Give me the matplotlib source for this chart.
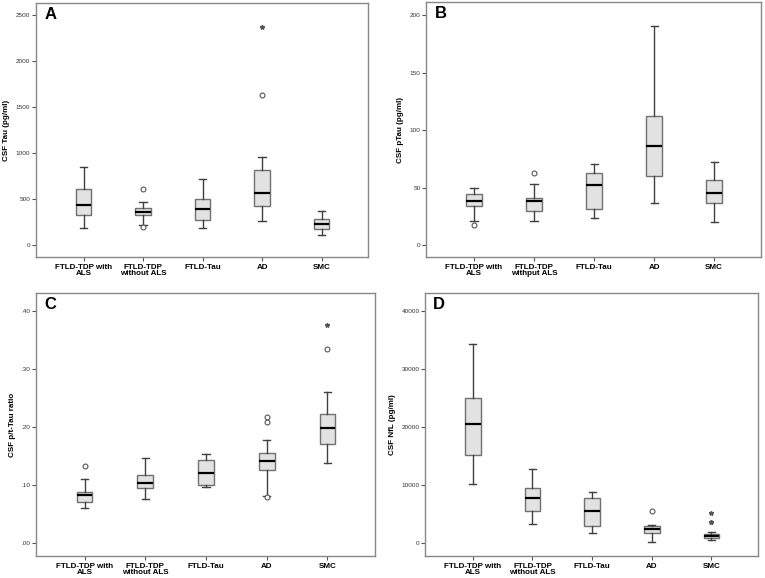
import matplotlib.pyplot as plt

plt.rcParams['font.family'] = ['Liberation Sans', 'DejaVu Sans']

groups = ['FTLD-TDP with\nALS', 'FTLD-TDP\nwithout ALS', 'FTLD-Tau', 'AD', 'SMC']
groups_b = ['FTLD-TDP with\nALS', 'FTLD-TDP\nwithput ALS', 'FTLD-Tau', 'AD', 'SMC']

# A: CSF Tau (pg/ml)
tau_low = [188, 218, 181, 258, 106]
tau_q1 = [323, 326, 269, 424, 171]
tau_med = [432, 356, 395, 569, 228]
tau_q3 = [613, 399, 497, 819, 280]
tau_high = [845, 471, 715, 957, 370]
tau_out = [[], [606, 196], [], [1629], []]
tau_ext = [[], [], [], [2375], []]

# B: CSF pTau (pg/ml)
ptau_low = [21.2, 21.2, 23.2, 36.3, 20.3]
ptau_q1 = [33.6, 29.3, 31.0, 60.3, 36.3]
ptau_med = [38.3, 38.5, 52.2, 86.4, 45.0]
ptau_q3 = [44.1, 41.2, 62.9, 112.2, 56.3]
ptau_high = [49.8, 53.3, 70.2, 190.4, 72.2]
ptau_out = [[17.1], [62.9], [], [], []]
ptau_ext = [[], [], [], [], []]

# C: CSF p/t-Tau ratio
ratio_low = [0.060, 0.077, 0.097, 0.081, 0.138]
ratio_q1 = [0.071, 0.096, 0.100, 0.126, 0.171]
ratio_med = [0.084, 0.104, 0.121, 0.142, 0.198]
ratio_q3 = [0.089, 0.117, 0.143, 0.156, 0.222]
ratio_high = [0.110, 0.146, 0.153, 0.178, 0.261]
ratio_out = [[0.133], [], [], [0.217, 0.208, 0.080], [0.335]]
ratio_ext = [[], [], [], [], [0.376]]

# D: CSF NfL (pg/ml)
nfl_low = [10263, 3272, 1774, 224, 568]
nfl_q1 = [15205, 5562, 2927, 1825, 964]
nfl_med = [20490, 7749, 5510, 2411, 1309]
nfl_q3 = [25020, 9470, 7800, 2927, 1601]
nfl_high = [34370, 12846, 8782, 3151, 2000]
nfl_out = [[], [], [], [5562], []]
nfl_ext = [[], [], [], [], [5270, 3750, 3600]]

panels = [
    ('A', [0.047, 0.5554, 0.434, 0.4394], 'CSF Tau (pg/ml)', groups,
     (tau_low, tau_q1, tau_med, tau_q3, tau_high, tau_out, tau_ext),
     [0, 500, 1000, 1500, 2000, 2500], ['0', '500', '1000', '1500', '2000', '2500'],
     (-131, 2634)),
    ('B', [0.5569, 0.5554, 0.4379, 0.4411], 'CSF pTau (pg/ml)', groups_b,
     (ptau_low, ptau_q1, ptau_med, ptau_q3, ptau_high, ptau_out, ptau_ext),
     [0, 50, 100, 150, 200], ['0', '50', '100', '150', '200'],
     (-10.4, 211.3)),
    ('C', [0.047, 0.038, 0.443, 0.455], 'CSF p/t-Tau ratio', groups,
     (ratio_low, ratio_q1, ratio_med, ratio_q3, ratio_high, ratio_out, ratio_ext),
     [0, 0.1, 0.2, 0.3, 0.4], ['.00', '.10', '.20', '.30', '.40'],
     (-0.0218, 0.4304)),
    ('D', [0.5556, 0.038, 0.4353, 0.455], 'CSF NfL (pg/ml)', groups,
     (nfl_low, nfl_q1, nfl_med, nfl_q3, nfl_high, nfl_out, nfl_ext),
     [0, 10000, 20000, 30000, 40000], ['0', '10000', '20000', '30000', '40000'],
     (-2187, 43100)),
]

fig = plt.figure(figsize=(7.65, 5.78), dpi=100)

for letter, rect, ylabel, labels, data, yticks, yticklabels, ylim in panels:
    ax = fig.add_axes(rect)
    low, q1, med, q3, high, out, ext = data
    stats = []
    for i in range(len(labels)):
        stats.append({'whislo': low[i], 'q1': q1[i], 'med': med[i], 'q3': q3[i],
                      'whishi': high[i], 'fliers': out[i], 'label': labels[i]})
    pos = list(range(1, len(labels) + 1))
    ax.bxp(stats, positions=pos, widths=0.26, capwidths=0.12, patch_artist=True,
           boxprops=dict(facecolor='#e2e2e2', edgecolor='#707070', linewidth=1.0),
           medianprops=dict(color='black', linewidth=1.6),
           whiskerprops=dict(color='#404040', linewidth=1.0),
           capprops=dict(color='#404040', linewidth=1.0),
           flierprops=dict(marker='o', markersize=3.5, markerfacecolor='white',
                           markeredgecolor='#555555', markeredgewidth=0.8))
    # extreme values drawn as asterisks
    for i, vals in enumerate(ext):
        if vals:
            ax.plot([pos[i]] * len(vals), vals, linestyle='none', marker='*',
                    markersize=3.2, color='#555555')

    ax.set_xlim(0.2, 5.78)
    ax.set_ylim(*ylim)
    ax.set_yticks(yticks)
    ax.set_yticklabels(yticklabels, fontsize=4.6, color='#333333')
    ax.set_xticks(pos)
    ax.set_xticklabels(labels, fontsize=5.8, fontweight='bold', linespacing=0.9)
    ax.tick_params(axis='y', length=3, width=0.8, color='#555555', pad=1)
    ax.tick_params(axis='x', length=3, width=0.8, color='#555555', pad=2)
    ax.set_ylabel(ylabel, fontsize=5.8, fontweight='bold', labelpad=4)
    for s in ax.spines.values():
        s.set_color('#888888')
        s.set_linewidth(1.0)
    ax.text(0.025, 0.985, letter, transform=ax.transAxes, fontsize=12,
            fontweight='bold', va='top', ha='left')

fig.savefig('out.png', dpi=100)
